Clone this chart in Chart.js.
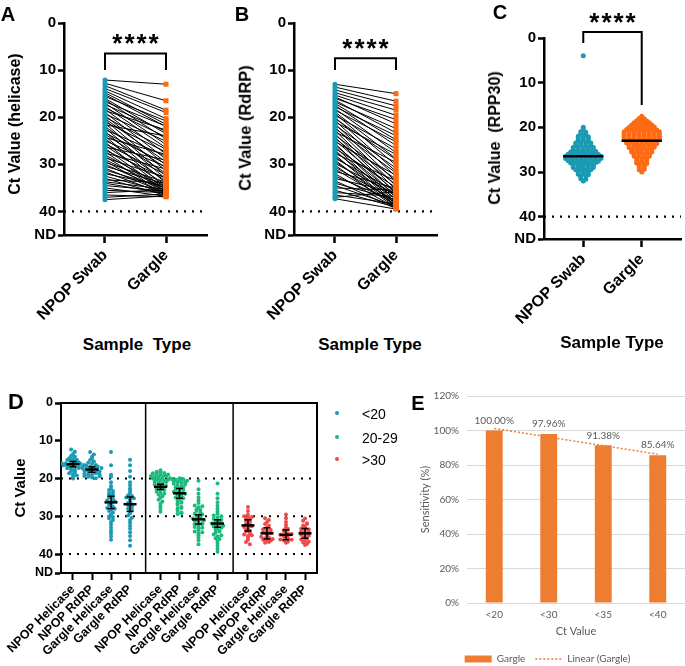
<!DOCTYPE html>
<html>
<head>
<meta charset="utf-8">
<title>Ct values: NPOP swab vs gargle</title>
<script src="https://cdn.jsdelivr.net/npm/chart.js@4.4.1/dist/chart.umd.min.js"></script>
<style>
  html, body { margin: 0; padding: 0; background: #fff; }
  body { width: 685px; height: 666px; position: relative; overflow: hidden; font-family: "Liberation Sans", Arial, sans-serif; }
  .panel { position: absolute; }
  .txt { position: absolute; white-space: pre; line-height: 1; transform: translate(-50%, -50%); color: #000; font-weight: bold; }
  .rot { transform: translate(-50%, -50%) rotate(-90deg); }
  .key { position: absolute; font-size: 14px; line-height: 1; transform: translateY(-50%); color: #000; }
  .dot { position: absolute; width: 4px; height: 4px; border-radius: 50%; transform: translate(-50%, -50%); }
</style>
</head>
<body>
<div class="panel" style="left:0;top:0;width:225px;height:330px"><canvas id="chartA"></canvas></div>
<div class="panel" style="left:230px;top:0;width:225px;height:330px"><canvas id="chartB"></canvas></div>
<div class="panel" style="left:500px;top:0;width:185px;height:335px"><canvas id="chartC"></canvas></div>
<div class="panel" style="left:0;top:380px;width:330px;height:286px"><canvas id="chartD"></canvas></div>
<div class="panel" style="left:410px;top:380px;width:275px;height:294px"><canvas id="chartE"></canvas></div>

<!-- panel letters -->
<div class="txt" style="left:8px;top:14px;font-size:20px">A</div>
<div class="txt" style="left:242px;top:14px;font-size:20px">B</div>
<div class="txt" style="left:500px;top:12px;font-size:20px">C</div>
<div class="txt" style="left:16px;top:402px;font-size:22px">D</div>
<div class="txt" style="left:418px;top:403px;font-size:20px">E</div>

<!-- axis titles -->
<div class="txt rot" style="left:15px;top:124px;font-size:16px">Ct Value (helicase)</div>
<div class="txt rot" style="left:245px;top:128px;font-size:16.5px">Ct Value (RdRP)</div>
<div class="txt rot" style="left:495px;top:138px;font-size:16px">Ct Value  (RPP30)</div>
<div class="txt rot" style="left:19px;top:488px;font-size:15px">Ct Value</div>
<div class="txt" style="left:137px;top:344px;font-size:17px">Sample  Type</div>
<div class="txt" style="left:370px;top:344px;font-size:17px">Sample Type</div>
<div class="txt" style="left:612px;top:342px;font-size:17px">Sample Type</div>

<!-- legend of D -->
<div class="dot" style="left:337px;top:413px;background:#1a9ab3"></div>
<div class="key" style="left:362px;top:414px">&lt;20</div>
<div class="dot" style="left:337px;top:437px;background:#1cba7c"></div>
<div class="key" style="left:362px;top:438px">20-29</div>
<div class="dot" style="left:337px;top:459px;background:#ef4a4a"></div>
<div class="key" style="left:362px;top:460px">&gt;30</div>

<script>
// ---------- data ----------
const sampleTypes = ['NPOP Swab', 'Gargle'];
const ctTicks = [0, 10, 20, 30, 40, 45];   // 45 is printed as ND
const ndValue = 45;
const lodCt = 40;

// A: paired helicase Ct (swab -> gargle)
const helicaseSwab = [12.1,12.8,13.3,13.9,14.4,14.8,15.2,15.6,16.0,16.3,16.7,17.0,17.3,17.7,18.0,18.3,18.6,19.0,19.3,19.6,
  20.0,20.3,20.6,21.0,21.3,21.6,22.0,22.3,22.6,23.0,23.3,23.6,24.0,24.3,24.6,25.0,25.3,25.6,26.0,26.3,
  26.6,27.0,27.3,27.6,28.0,28.3,28.6,29.0,29.3,29.6,30.0,30.4,30.8,31.2,31.6,32.0,32.5,33.0,33.3,33.7,
  34.0,34.5,35.0,35.5,36.0,36.5,37.0,37.5];
const helicaseGargle = [13.0,16.5,18.5,19.0,20.3,21.5,22.0,20.8,23.5,24.6,21.9,25.8,23.0,26.5,24.2,27.8,22.7,28.9,25.1,30.2,
  26.8,29.5,31.4,27.4,32.5,24.0,30.8,33.1,28.3,34.0,29.9,31.9,35.0,27.9,33.6,30.5,35.5,32.2,34.4,29.1,
  35.8,33.0,36.0,31.0,34.8,36.3,32.8,35.2,36.5,33.8,35.6,34.2,36.1,35.0,36.4,34.6,35.9,36.6,33.9,35.3,
  36.2,35.7,36.8,36.0,35.4,36.9,36.3,36.7];

// B: paired RdRP Ct
const rdrpSwab = [13.0,13.6,14.2,14.8,15.3,15.7,16.0,16.4,16.8,17.1,17.5,17.8,18.2,18.5,18.9,19.2,19.6,20.0,20.3,20.7,
  21.0,21.4,21.7,22.1,22.4,22.8,23.1,23.5,23.8,24.2,24.5,24.9,25.2,25.6,25.9,26.3,26.6,27.0,27.3,27.7,
  28.0,28.4,28.7,29.1,29.4,29.8,30.2,30.6,31.0,31.5,32.0,32.5,33.0,33.5,34.0,34.5,35.0,35.5,36.0,36.5,
  37.0,37.3];
const rdrpGargle = [15.0,16.6,17.6,18.5,19.6,21.4,20.5,23.3,22.4,24.8,26.0,23.9,27.5,25.2,28.8,30.2,26.7,31.5,29.0,32.6,
  27.9,33.7,30.8,34.6,31.8,35.4,29.6,36.2,33.2,37.0,34.3,35.9,32.3,37.6,36.6,38.1,34.9,38.5,36.9,33.5,
  38.8,37.3,35.7,39.0,38.2,36.4,39.2,37.8,38.6,35.1,39.3,38.0,36.0,39.4,37.5,38.9,35.5,39.1,36.8,38.4,
  35.8,39.5];

// C: RPP30 Ct
const rpp30Swab = [4.0,
  20.0,20.5,21.0,21.1,21.5,21.6,22.0,21.9,22.1,22.5,22.4,22.6,23.0,22.9,23.1,
  23.5,23.4,23.6,23.5,24.0,23.9,24.1,24.0,24.5,24.4,24.6,24.5,24.5,25.0,24.9,25.1,25.0,25.0,
  25.5,25.4,25.6,25.5,25.5,25.4,26.0,25.9,26.1,26.0,26.0,25.9,26.1,
  26.5,26.4,26.6,26.5,26.5,26.4,26.6,26.5,27.0,26.9,27.1,27.0,27.0,26.9,27.1,27.0,
  27.5,27.4,27.6,27.5,27.5,27.4,27.6,28.0,27.9,28.1,28.0,28.0,27.9,
  28.5,28.4,28.6,28.5,28.5,29.0,28.9,29.1,29.0,29.0,29.5,29.4,29.6,29.5,
  30.0,29.9,30.1,30.5,30.4,30.6,31.0,30.9,31.5,31.6,32.0];
const rpp30Gargle = [17.5,18.0,18.1,18.5,18.4,18.6,19.0,18.9,19.1,19.0,19.5,19.4,19.6,19.5,19.5,
  20.0,19.9,20.1,20.0,20.0,19.9,20.5,20.4,20.6,20.5,20.5,20.4,20.6,
  21.0,20.9,21.1,21.0,21.0,20.9,21.1,21.0,21.5,21.4,21.6,21.5,21.5,21.4,21.6,21.5,
  22.0,21.9,22.1,22.0,22.0,21.9,22.1,22.0,22.5,22.4,22.6,22.5,22.5,22.4,22.6,22.5,
  23.0,22.9,23.1,23.0,23.0,22.9,23.1,23.5,23.4,23.6,23.5,23.5,23.4,23.6,
  24.0,23.9,24.1,24.0,24.0,23.9,24.5,24.4,24.6,24.5,24.5,24.4,
  25.0,24.9,25.1,25.0,25.0,25.5,25.4,25.6,25.5,25.5,26.0,25.9,26.1,26.0,26.5,26.4,26.6,26.5,
  27.0,26.9,27.1,27.5,27.4,27.6,28.0,27.9,28.1,28.5,28.4,29.0,28.9,29.5,29.4,30.0];
const rpp30Median = [26.5, 23.0];

// D: Ct by viral-load group
const dGroups = ['<20', '20-29', '>30'];
const dCategories = ['NPOP Helicase', 'NPOP RdRP', 'Gargle Helicase', 'Gargle RdRP'];
const dLow = [
  [12.3,12.9,13.5,14.0,14.2,14.6,14.9,15.1,15.3,15.5,15.7,15.9,16.0,16.2,16.3,16.5,16.6,16.8,17.0,17.1,17.3,17.5,17.8,18.0,18.3,18.6,18.9,19.2,19.6,20.0,15.8,16.1,16.4,17.2,15.0,16.9],
  [13.0,13.6,14.2,14.7,15.1,15.5,15.8,16.1,16.4,16.6,16.9,17.1,17.3,17.5,17.7,17.9,18.1,18.3,18.5,18.7,18.9,19.1,19.3,19.5,19.7,19.9,17.4,17.8,18.2,18.6,19.0,19.4,16.8,17.2],
  [13.0,16.5,19.0,19.5,21.0,22.0,22.5,23.0,23.3,23.8,24.3,24.7,25.0,25.4,25.8,26.2,26.6,27.0,27.4,27.8,28.2,28.6,29.0,29.5,30.0,30.5,31.0,31.5,32.2,33.0,33.8,34.5,35.3,36.2,24.0,26.0,28.0,30.2],
  [15.0,16.5,18.0,19.5,21.0,21.8,22.6,23.2,23.8,24.4,25.0,25.5,26.0,26.5,27.0,27.5,28.0,28.6,29.2,29.8,30.4,31.0,31.7,32.5,33.3,34.2,35.2,36.3,37.8,25.2,26.8,28.3,24.6]
];
const dMid = [
  [17.8,18.2,18.4,18.6,18.8,19.0,19.1,19.3,19.5,19.6,19.8,20.0,20.2,20.4,20.6,20.8,21.0,21.3,21.6,21.9,22.2,22.5,22.8,23.1,23.5,23.9,24.3,24.7,25.1,25.6,26.1,26.7,27.3,28.0,28.8,18.5,18.9,19.4,19.9,20.3,20.9,21.5,22.0,23.0,24.0],
  [19.9,20.1,20.3,20.5,20.7,20.9,21.1,21.4,21.7,22.0,22.3,22.6,22.9,23.2,23.5,23.8,24.1,24.4,24.7,25.0,25.4,25.8,26.2,26.6,27.0,27.5,28.0,28.5,29.0,29.4,20.2,20.6,21.0,21.6,22.4,23.0,24.0,25.2,26.4,27.8,29.2],
  [20.6,22.8,24.0,25.0,25.8,26.5,27.1,27.6,28.1,28.5,28.9,29.3,29.7,30.0,30.3,30.6,30.9,31.2,31.5,31.8,32.1,32.4,32.8,33.2,33.6,34.0,34.5,35.0,35.6,36.3,37.4,29.5,30.5,31.0,32.0,33.0,34.2,28.3,27.3],
  [21.3,24.0,25.2,26.3,27.2,28.0,28.7,29.3,29.8,30.3,30.7,31.1,31.5,31.9,32.3,32.7,33.1,33.5,33.9,34.3,34.8,35.3,35.8,36.4,37.0,37.8,38.6,39.4,30.0,31.0,32.0,33.0,34.0,35.0,36.0,31.3,32.5]
];
const dHigh = [
  [27.5,28.6,29.6,30.0,30.4,30.8,31.2,31.6,32.0,32.4,32.8,33.2,33.6,34.0,34.4,34.8,35.2,35.7,36.2,36.8,37.4,30.2,31.0,32.6,33.8,35.0],
  [30.5,31.0,31.5,32.0,32.5,33.0,33.4,33.8,34.2,34.6,35.0,35.4,35.8,36.2,36.6,37.0,36.8,36.4,35.6,34.4,33.6,36.0],
  [29.5,30.5,31.5,32.3,33.0,33.6,34.1,34.5,34.9,35.2,35.5,35.8,36.1,36.4,36.7,37.0,35.0,34.7,36.2,33.3],
  [30.6,31.2,31.8,32.4,32.9,33.3,33.7,34.1,34.5,34.9,35.3,35.7,36.1,36.5,36.9,37.3,37.6,33.5,34.3,35.1,35.9,36.7,32.0]
];
const dMeans = [[16.2, 17.6, 26.3, 26.8], [22.2, 23.9, 30.8, 31.9], [32.4, 34.5, 34.9, 34.5]];
const dErrors = [[0.7, 0.7, 1.6, 1.9], [0.7, 1.3, 1.2, 1.0], [1.5, 1.5, 1.3, 1.3]];

// E: gargle sensitivity
const eCategories = ['<20', '<30', '<35', '<40'];
const eSensitivity = [100.00, 97.96, 91.38, 85.64];
const eTrend = [101.2, 96.2, 91.2, 86.3];

// ---------- helpers ----------
const FONT = '"Liberation Sans", Arial, sans-serif';
const BLUE = '#1a9ab3', ORANGE = '#ff6a13', EXCEL_ORANGE = '#ed7d31', GREY = '#595959';
const xMin = -0.672, xMax = 1.672;

// beeswarm: points in the same Ct row are spread sideways around the centre
function swarm(values, center, bin, step) {
  const rows = {};
  values.forEach(v => {
    const k = Math.round(v / bin);
    (rows[k] = rows[k] || []).push(v);
  });
  const pts = [];
  Object.values(rows).forEach(r => {
    r.forEach((v, j) => pts.push({ x: center + (j - (r.length - 1) / 2) * step, y: v }));
  });
  return pts;
}

function pairLines(a, b) {
  const out = [];
  a.forEach((v, i) => out.push({ x: 0, y: v }, { x: 1, y: b[i] }, { x: 1, y: null }));
  return out;
}

function ctAxis(width, size, tick) {
  return {
    type: 'linear', reverse: true, min: 0, max: ndValue,
    afterBuildTicks: s => { s.ticks = ctTicks.map(v => ({ value: v })); },
    afterFit: s => { s.width = width; },
    ticks: { callback: v => v === ndValue ? 'ND' : v, color: '#000', padding: 2,
             font: { family: FONT, size: size, weight: 'bold' } },
    grid: { drawOnChartArea: false, tickLength: tick, tickWidth: 2.5, tickColor: '#000' },
    border: { color: '#000', width: 2.5 }
  };
}

function sampleAxis(height) {
  return {
    type: 'linear', min: xMin, max: xMax,
    afterBuildTicks: s => { s.ticks = sampleTypes.map((t, i) => ({ value: i })); },
    afterFit: s => { s.height = height; },
    ticks: { callback: v => sampleTypes[v], minRotation: 45, maxRotation: 45, autoSkip: false,
             color: '#000', padding: 3, font: { family: FONT, size: 16, weight: 'bold' } },
    grid: { drawOnChartArea: false, tickLength: 8, tickWidth: 2.5, tickColor: '#000' },
    border: { color: '#000', width: 2.5 }
  };
}

function lodLine(x0, x1) {
  return { type: 'line', data: [{ x: x0, y: lodCt }, { x: x1, y: lodCt }], borderColor: '#000',
           borderWidth: 2.2, borderDash: [2, 6], pointRadius: 0, order: 5 };
}

// brackets, medians, error bars, frame and value labels
const decor = {
  id: 'decor',
  afterDatasetsDraw(chart, args, o) {
    const { ctx, chartArea: a, scales: { x, y } } = chart;
    ctx.save();
    ctx.strokeStyle = '#000';
    ctx.fillStyle = '#000';
    if (o.frame) {
      ctx.lineWidth = 2;
      ctx.beginPath();
      ctx.moveTo(a.left, a.top); ctx.lineTo(a.right, a.top); ctx.lineTo(a.right, a.bottom);
      ctx.stroke();
    }
    (o.separators || []).forEach(v => {
      const px = x.getPixelForValue(v);
      ctx.lineWidth = 1.5;
      ctx.beginPath(); ctx.moveTo(px, a.top); ctx.lineTo(px, a.bottom); ctx.stroke();
    });
    (o.medians || []).forEach((m, i) => {
      const py = y.getPixelForValue(m);
      ctx.lineWidth = 2.5;
      ctx.beginPath();
      ctx.moveTo(x.getPixelForValue(i - 0.345), py); ctx.lineTo(x.getPixelForValue(i + 0.345), py);
      ctx.stroke();
    });
    (o.errorBars || []).forEach(e => {
      const px = x.getPixelForValue(e.x);
      const t = y.getPixelForValue(e.mean - e.err), b = y.getPixelForValue(e.mean + e.err), m = y.getPixelForValue(e.mean);
      ctx.lineWidth = 1.5;
      ctx.beginPath();
      ctx.moveTo(px, t); ctx.lineTo(px, b);
      ctx.moveTo(px - 3.5, t); ctx.lineTo(px + 3.5, t);
      ctx.moveTo(px - 3.5, b); ctx.lineTo(px + 3.5, b);
      ctx.stroke();
      ctx.lineWidth = 2.5;
      ctx.beginPath(); ctx.moveTo(px - 6.5, m); ctx.lineTo(px + 6.5, m); ctx.stroke();
    });
    if (o.bracket) {
      const br = o.bracket;
      const x1 = x.getPixelForValue(0), x2 = x.getPixelForValue(1), yt = y.getPixelForValue(br.top);
      ctx.lineWidth = 2;
      ctx.beginPath();
      ctx.moveTo(x1, y.getPixelForValue(br.left)); ctx.lineTo(x1, yt);
      ctx.lineTo(x2, yt); ctx.lineTo(x2, y.getPixelForValue(br.right));
      ctx.stroke();
      ctx.font = 'bold 26px ' + FONT;
      ctx.letterSpacing = '2px';
      ctx.textAlign = 'center';
      ctx.textBaseline = 'alphabetic';
      ctx.fillText('****', (x1 + x2) / 2 + 1, y.getPixelForValue(br.stars) + 15);
    }
    if (o.valueLabels) {
      const meta = chart.getDatasetMeta(0);
      const vals = chart.data.datasets[0].data;
      ctx.font = '10px Lato';
      ctx.fillStyle = GREY;
      ctx.textAlign = 'center';
      ctx.textBaseline = 'middle';
      meta.data.forEach((bar, i) => ctx.fillText(vals[i].toFixed(2) + '%', bar.x, bar.y - 10));
    }
    ctx.restore();
  }
};
Chart.register(decor);

const base = { responsive: true, maintainAspectRatio: false, animation: false, events: [] };

function pairedChart(id, swab, gargle, bracket) {
  new Chart(document.getElementById(id), {
    type: 'scatter',
    data: {
      datasets: [
        { data: swab.map(v => ({ x: 0, y: v })), pointRadius: 2.5, pointBackgroundColor: BLUE, pointBorderWidth: 0, order: 0 },
        { data: gargle.map(v => ({ x: 1, y: v })), pointStyle: 'rect', pointRadius: 3.5, pointBackgroundColor: ORANGE, pointBorderWidth: 0, order: 1 },
        { type: 'line', data: pairLines(swab, gargle), borderColor: '#000', borderWidth: 1, pointRadius: 0, spanGaps: false, order: 2 },
        lodLine(xMin, xMax)
      ]
    },
    options: Object.assign({}, base, {
      layout: { padding: { top: 23, right: 18, left: 0, bottom: 0 } },
      scales: { x: sampleAxis(95), y: ctAxis(64, 15, 6) },
      plugins: { legend: { display: false }, tooltip: { enabled: false }, decor: { bracket: bracket } }
    })
  });
}

pairedChart('chartA', helicaseSwab, helicaseGargle, { top: 6.5, left: 10, right: 10, stars: 3.0 });
pairedChart('chartB', rdrpSwab, rdrpGargle, { top: 7.5, left: 10, right: 10, stars: 4.1 });

// C
new Chart(document.getElementById('chartC'), {
  type: 'scatter',
  data: {
    datasets: [
      { data: swarm(rpp30Swab, 0, 0.5, 0.086), pointRadius: 2.5, pointBackgroundColor: BLUE, pointBorderWidth: 0 },
      { data: swarm(rpp30Gargle, 1, 0.5, 0.086), pointRadius: 2.5, pointBackgroundColor: ORANGE, pointBorderWidth: 0 },
      lodLine(xMin, xMax)
    ]
  },
  options: Object.assign({}, base, {
    layout: { padding: { top: 38, right: 4, left: 0, bottom: 0 } },
    scales: { x: sampleAxis(96), y: ctAxis(44, 15, 6) },
    plugins: { legend: { display: false }, tooltip: { enabled: false },
               decor: { medians: rpp30Median, bracket: { top: -1.35, left: 1.1, right: 15, stars: -4.9 } } }
  })
});

// D
const dSeries = [dLow, dMid, dHigh];
const dColors = ['#1a9ab3', '#1cba7c', '#ef4a4a'];
const dPos = [];
dGroups.forEach((g, gi) => dCategories.forEach((c, ci) => dPos.push(0.63 + gi * 4.6 + ci)));
const dLabels = dGroups.flatMap(() => dCategories);
const dMaxX = 0.63 + 2 * 4.6 + 3 + 0.63;
const dBars = [];
dSeries.forEach((grp, gi) => grp.forEach((v, ci) => {
  dBars.push({ x: dPos[gi * 4 + ci], mean: dMeans[gi][ci], err: dErrors[gi][ci] });
}));

const dAxisY = ctAxis(61, 12.5, 6);
dAxisY.border.width = 2;
new Chart(document.getElementById('chartD'), {
  type: 'scatter',
  data: {
    datasets: dSeries.map((grp, gi) => ({
      label: dGroups[gi],
      data: grp.flatMap((vals, ci) => swarm(vals, dPos[gi * 4 + ci], 0.7, 0.2)),
      pointRadius: 2, pointBackgroundColor: dColors[gi], pointBorderWidth: 0, order: 0
    })).concat([
      { type: 'line', data: [20, 30, 40].flatMap(v => [{ x: 0, y: v }, { x: dMaxX, y: v }, { x: dMaxX, y: null }]),
        borderColor: '#000', borderWidth: 2, borderDash: [2, 6], pointRadius: 0, spanGaps: false, order: 5 }
    ])
  },
  options: Object.assign({}, base, {
    layout: { padding: { top: 23, right: 13, left: 0, bottom: 0 } },
    scales: {
      x: {
        type: 'linear', min: 0, max: dMaxX,
        afterBuildTicks: s => { s.ticks = dPos.map(v => ({ value: v })); },
        afterFit: s => { s.height = 93; },
        ticks: { callback: (v, i) => dLabels[i], minRotation: 45, maxRotation: 45, autoSkip: false,
                 color: '#000', padding: 2, font: { family: FONT, size: 12.5, weight: 'bold' } },
        grid: { drawOnChartArea: false, tickLength: 7, tickWidth: 2, tickColor: '#000' },
        border: { color: '#000', width: 2 }
      },
      y: dAxisY
    },
    plugins: { legend: { display: false }, tooltip: { enabled: false },
               decor: { frame: true, separators: [0.63 + 3.82, 0.63 + 4.6 + 3.82], errorBars: dBars } }
  })
});

// E
new Chart(document.getElementById('chartE'), {
  type: 'bar',
  data: {
    labels: eCategories,
    datasets: [
      { type: 'bar', label: 'Gargle', data: eSensitivity, backgroundColor: EXCEL_ORANGE,
        barPercentage: 0.31, categoryPercentage: 1, pointStyle: 'rect', order: 1 },
      { type: 'line', label: 'Linear (Gargle)', data: eTrend, borderColor: EXCEL_ORANGE, borderWidth: 1.5,
        borderDash: [2, 2], pointRadius: 0, pointStyle: 'line', order: 0 }
    ]
  },
  options: Object.assign({}, base, {
    layout: { padding: { top: 16, right: 0, left: 0, bottom: 0 } },
    scales: {
      y: {
        min: 0, max: 120,
        afterFit: s => { s.width = 57; },
        ticks: { stepSize: 20, callback: v => v + '%', color: GREY, padding: 8, font: { family: 'Lato', size: 10 } },
        grid: { color: '#d9d9d9', drawTicks: false },
        border: { display: false },
        title: { display: true, text: 'Sensitivity (%)', color: GREY, font: { family: 'Lato', size: 11 }, padding: { top: 9, bottom: 0 } }
      },
      x: {
        afterFit: s => { s.height = 41; },
        ticks: { color: GREY, padding: 6, font: { family: 'Lato', size: 10 } },
        grid: { display: false, drawTicks: false },
        border: { color: '#d9d9d9' },
        title: { display: true, text: 'Ct Value', color: GREY, font: { family: 'Lato', size: 11 }, padding: { top: 0, bottom: 6 } }
      }
    },
    plugins: {
      tooltip: { enabled: false },
      decor: { valueLabels: true },
      legend: {
        position: 'bottom',
        labels: {
          usePointStyle: true, pointStyleWidth: 27, boxHeight: 7, padding: 10, color: GREY,
          font: { family: 'Lato', size: 10 },
          sort: (a, b) => a.datasetIndex - b.datasetIndex,
          generateLabels: chart => Chart.defaults.plugins.legend.labels.generateLabels(chart).map(item => {
            if (item.datasetIndex === 1) { item.lineDash = [2, 2]; item.lineWidth = 1.5; item.strokeStyle = EXCEL_ORANGE; }
            return item;
          })
        }
      }
    }
  })
});
</script>
</body>
</html>
